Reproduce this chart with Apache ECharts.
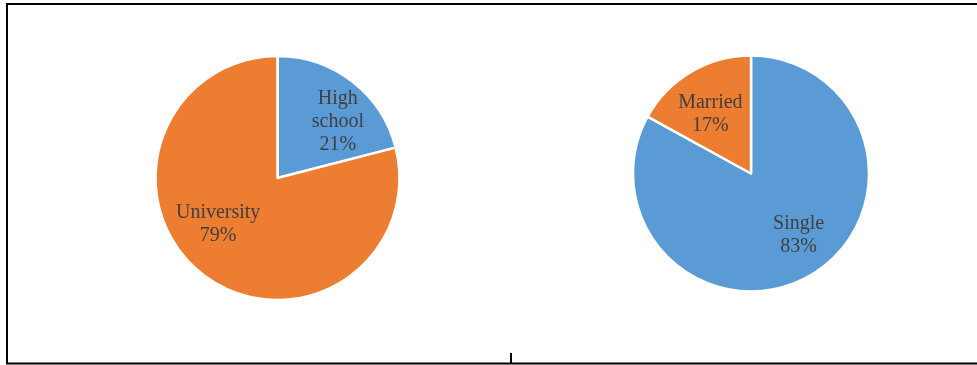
<!DOCTYPE html>
<html>
<head>
<meta charset="utf-8">
<script src="https://cdn.jsdelivr.net/npm/echarts@6/dist/echarts.min.js"></script>
<style>
html,body{margin:0;padding:0;background:#fff;}
#main{width:977px;height:365px;}
</style>
</head>
<body>
<div id="main"></div>
<script>
const eduCategories = ['High school', 'University'];
const eduValues = [21, 79];
const maritalCategories = ['Single', 'Married'];
const maritalValues = [83, 17];

const BLUE = '#5B9BD5';
const ORANGE = '#ED7D31';

const W = 977, H = 365;
// layout: centres, radii and small label nudges (style only)
const pies = [
  { cx: 277.5, cy: 178, r: 122, cats: eduCategories, vals: eduValues, colors: [BLUE, ORANGE],
    nudge: [[11, 7], [-10, -17]] },
  { cx: 751, cy: 173.5, r: 118, cats: maritalCategories, vals: maritalValues, colors: [BLUE, ORANGE],
    nudge: [[8, -5], [-1, 8]] }
];
const LABEL_FACTOR = 0.66;

const chart = echarts.init(document.getElementById('main'), null, { renderer: 'canvas' });

function labelPos(p, i) {
  const total = p.vals.reduce((a, b) => a + b, 0);
  let before = 0;
  for (let k = 0; k < i; k++) before += p.vals[k];
  const a = (before + p.vals[i] / 2) / total * Math.PI * 2;
  return {
    x: p.cx + LABEL_FACTOR * p.r * Math.sin(a) + p.nudge[i][0],
    y: p.cy - LABEL_FACTOR * p.r * Math.cos(a) + p.nudge[i][1]
  };
}

const series = pies.map((p, si) => ({
  type: 'pie',
  center: [(p.cx / W * 100) + '%', (p.cy / H * 100) + '%'],
  radius: p.r,
  startAngle: 90,
  clockwise: true,
  animation: false,
  silent: true,
  itemStyle: { borderColor: '#ffffff', borderWidth: 2.5 },
  label: {
    show: true,
    position: 'inside',
    fontFamily: '"Liberation Serif", "Times New Roman", serif',
    fontSize: 20,
    lineHeight: 23,
    color: '#404040',
    formatter: (prm) => prm.name.replace(' ', '\n') + '\n' + prm.value + '%'
  },
  labelLayout: (prm) => {
    const pos = labelPos(p, prm.dataIndex);
    return { x: pos.x, y: pos.y, align: 'center', verticalAlign: 'middle' };
  },
  emphasis: { disabled: true },
  data: p.cats.map((c, i) => ({ name: c, value: p.vals[i], itemStyle: { color: p.colors[i] } }))
}));

chart.setOption({
  backgroundColor: '#ffffff',
  animation: false,
  series: series,
  graphic: [
    {
      type: 'polyline',
      silent: true,
      shape: { points: [[977, 4], [7, 4], [7, 363.5], [977, 363.5]] },
      style: { stroke: '#000', lineWidth: 2, fill: null }
    },
    {
      type: 'line',
      silent: true,
      shape: { x1: 511, y1: 353, x2: 511, y2: 363 },
      style: { stroke: '#000', lineWidth: 2 }
    }
  ]
});
</script>
</body>
</html>
